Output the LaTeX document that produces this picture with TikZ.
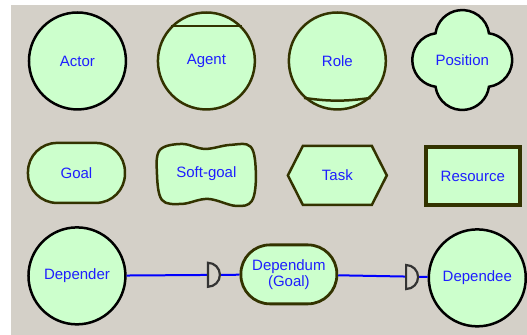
\documentclass[tikz,border=0pt]{standalone}
\usepackage{fontspec}
\setmainfont{Liberation Sans}
\usetikzlibrary{calc}

\definecolor{elemfill}{RGB}{204,255,204}
\definecolor{elemline}{RGB}{51,51,0}
\definecolor{elemtext}{RGB}{30,30,255}
\definecolor{panel}{RGB}{212,208,200}

\begin{document}
\begin{tikzpicture}[x=1pt, y=1pt,
  elem/.style={text=elemtext, font=\fontsize{15}{16}\selectfont, align=center, inner sep=0pt},
  actorcircle/.style={elem, circle, draw=black, fill=elemfill, line width=2.5pt, minimum size=97pt},
  olivecircle/.style={actorcircle, draw=elemline},
  outline/.style={draw=elemline, fill=elemfill, line width=2.5pt},
  depline/.style={draw={rgb,255:red,0;green,0;blue,255}, line width=2pt},
  dmark/.style={draw=black!80, fill=panel, line width=2.2pt}
]

\fill[white] (0,0) rectangle (527,-335);
\fill[panel] (11,-5) rectangle (527,-335);

\node (actor) at (77.5,-61) [actorcircle] {Actor};
\node (agent) at (206.5,-61) [olivecircle] {Agent};
\draw[elemline, line width=2.5pt] (agent.135) -- (agent.45);
\node (role) at (337.5,-61) [olivecircle] {Role};
\draw[elemline, line width=2.5pt] (role.-132) to[bend right=8] (role.-48);

\coordinate (P) at (462.5,-60);
\draw[black, fill=elemfill, line width=2.5pt] ($(P)+(26.7,26.7)$)
  arc[start angle=8, end angle=172, radius=27pt]
  arc[start angle=98, end angle=262, radius=27pt]
  arc[start angle=188, end angle=352, radius=27pt]
  arc[start angle=278, end angle=442, radius=27pt] -- cycle;
\node (position) at (P) [elem] {Position};

\node (goal) at (76.5,-173) [elem, outline, rounded corners=29pt, minimum width=97pt, minimum height=60pt] {Goal};

\coordinate (S) at (206.5,-174);
\draw[outline, shift={(S)}] plot[smooth cycle, tension=0.6] coordinates {
  (-46.5,24) (-24.5,30) (-1.5,25) (23.5,29) (44.5,27) (49.5,-1)
  (45.5,-27) (29.5,-32) (1.5,-25) (-24.5,-30) (-44.5,-26) (-49.5,1)};
\node (softgoal) at (S) [elem] {Soft-goal};

\coordinate (T) at (337.5,-175.5);
\draw[outline] ($(T)+(-49.5,0)$) -- ++(15,29.5) -- ++(69,0) -- ++(15,-29.5)
  -- ++(-15,-29.5) -- ++(-69,0) -- cycle;
\node (task) at (T) [elem] {Task};

\node (resource) at (473,-176) [elem, outline, line width=3.5pt, minimum width=94pt, minimum height=58pt] {Resource};

\node (depender) at (77,-276) [actorcircle] {Depender};
\node (dependum) at (289,-274.5) [elem, outline, line width=2.8pt, rounded corners=29pt, minimum width=96pt, minimum height=59pt] {Dependum\\(Goal)};
\node (dependee) at (477.5,-278) [actorcircle] {Dependee};

\draw[depline] (depender) -- (dependum);
\draw[depline] (dependum) -- (dependee);
\coordinate (D1) at ($(depender.east)!0.72!(dependum.west)$);
\coordinate (D2) at ($(dependum.east)!0.76!(dependee.west)$);
\draw[dmark] ($(D1)+(0,12)$) arc[start angle=90, end angle=-90, radius=12pt] -- cycle;
\draw[dmark] ($(D2)+(0,12)$) arc[start angle=90, end angle=-90, radius=12pt] -- cycle;

\end{tikzpicture}
\end{document}
